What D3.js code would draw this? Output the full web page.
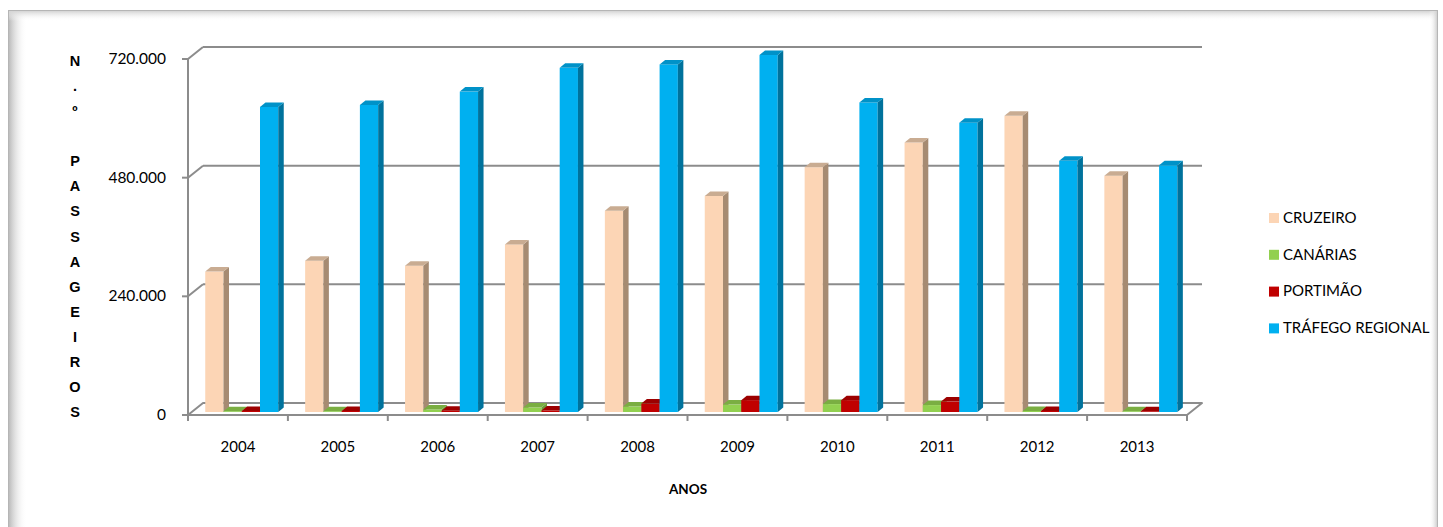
<!DOCTYPE html>
<html>
<head>
<meta charset="utf-8">
<script src="https://cdn.jsdelivr.net/npm/d3@7"></script>
<style>
  body { margin: 0; background: #fff; }
  svg text { font-family: Lato, "Open Sans", sans-serif; fill: #000; }
</style>
</head>
<body>
<div class="chart"></div>
<script>
// dados
const years = ["2004", "2005", "2006", "2007", "2008", "2009", "2010", "2011", "2012", "2013"];
const seriesNames = ["CRUZEIRO", "CANÁRIAS", "PORTIMÃO", "TRÁFEGO REGIONAL"];
const cruzeiro = [284000, 306000, 296000, 339000, 407000, 437000, 495000, 545000, 599000, 478000];
const canarias = [1500, 1500, 5000, 9000, 11000, 15000, 16000, 14000, 2000, 1500];
const portimao = [2000, 2000, 2500, 3000, 17000, 24000, 24000, 21000, 2000, 1500];
const trafegoRegional = [617000, 621000, 648000, 696000, 703000, 722000, 626000, 585000, 508000, 499000];
const yTicks = [0, 240000, 480000, 720000];
const yTitle = "N.º PASSAGEIROS";

const seriesValues = [cruzeiro, canarias, portimao, trafegoRegional];
const colors = [
  { front: "#FCD5B5", side: "#A68B72", top: "#C9AC92" },
  { front: "#92D050", side: "#6B9B38", top: "#7AAE42" },
  { front: "#C00000", side: "#880000", top: "#9C0000" },
  { front: "#00B0F0", side: "#00729C", top: "#0092C8" },
];

const width = 1443, height = 527;
const wallDx = 15, wallDy = -12; // profundidade da parede
const barDx = 3.75, barDy = -3; // plano das barras
const depthDx = 5.5, depthDy = -4.5; // espessura das barras

const pt = d3.formatLocale({ decimal: ",", thousands: ".", grouping: [3], currency: ["", "€"] }).format(",");

const svg = d3
  .select(".chart")
  .append("svg")
  .attr("width", width)
  .attr("height", height);

// moldura com sombra
const defs = svg.append("defs");
const gl = defs.append("linearGradient").attr("id", "shL").attr("x1", 0).attr("x2", 1).attr("y1", 0).attr("y2", 0);
gl.append("stop").attr("offset", 0).attr("stop-color", "#bcbcbc");
gl.append("stop").attr("offset", 1).attr("stop-color", "#ffffff").attr("stop-opacity", 0);
const gt = defs.append("linearGradient").attr("id", "shT").attr("x1", 0).attr("x2", 0).attr("y1", 0).attr("y2", 1);
gt.append("stop").attr("offset", 0).attr("stop-color", "#d4d4d4");
gt.append("stop").attr("offset", 1).attr("stop-color", "#ffffff").attr("stop-opacity", 0);
const gr = defs.append("linearGradient").attr("id", "shR").attr("x1", 1).attr("x2", 0).attr("y1", 0).attr("y2", 0);
gr.append("stop").attr("offset", 0).attr("stop-color", "#d0d0d0");
gr.append("stop").attr("offset", 1).attr("stop-color", "#ffffff").attr("stop-opacity", 0);

svg.append("rect").attr("x", 9).attr("y", 11).attr("width", 18).attr("height", 530).attr("fill", "url(#shL)");
svg.append("rect").attr("x", 9).attr("y", 11).attr("width", 1428).attr("height", 10).attr("fill", "url(#shT)");
svg.append("rect").attr("x", 1429).attr("y", 11).attr("width", 8).attr("height", 530).attr("fill", "url(#shR)");
svg
  .append("rect")
  .attr("x", 8.5)
  .attr("y", 10.5)
  .attr("width", 1429)
  .attr("height", 540)
  .attr("fill", "none")
  .attr("stroke", "#b5b5b5")
  .attr("stroke-width", 1);

// escalas
const x0 = d3.scaleBand().domain(years).range([188, 1187]).padding(0);
const x1 = d3.scaleBand().domain(seriesNames).range([13.5, 86.5]).padding(0);
const y = d3.scaleLinear().domain([0, 720000]).range([415, 59]);

const gridColor = "#8c8c8c";
const [xl, xr] = x0.range();

// parede do fundo + linhas de grelha
const grid = svg.append("g").attr("class", "grid");
grid
  .selectAll("line.back")
  .data(yTicks.filter((d) => d > 0))
  .enter()
  .append("line")
  .attr("x1", xl + wallDx)
  .attr("x2", xr + wallDx)
  .attr("y1", (d) => y(d) + wallDy)
  .attr("y2", (d) => y(d) + wallDy)
  .attr("stroke", gridColor)
  .attr("stroke-width", 2);
grid
  .selectAll("line.diag")
  .data(yTicks.filter((d) => d > 0))
  .enter()
  .append("line")
  .attr("x1", xl)
  .attr("x2", xl + wallDx)
  .attr("y1", (d) => y(d))
  .attr("y2", (d) => y(d) + wallDy)
  .attr("stroke", gridColor)
  .attr("stroke-width", 2);

// chão
const y0 = y(0);
svg
  .append("path")
  .attr(
    "d",
    `M${xl},${y0}L${xr},${y0}L${xr + wallDx},${y0 + wallDy}L${xl + wallDx},${y0 + wallDy}Z`
  )
  .attr("fill", "#fff")
  .attr("stroke", gridColor)
  .attr("stroke-width", 2)
  .attr("stroke-linejoin", "round");

// eixo vertical da frente
svg
  .append("line")
  .attr("x1", xl)
  .attr("x2", xl)
  .attr("y1", y(720000))
  .attr("y2", y0)
  .attr("stroke", gridColor)
  .attr("stroke-width", 2);
svg
  .selectAll("line.ytick")
  .data(yTicks)
  .enter()
  .append("line")
  .attr("x1", xl - 6)
  .attr("x2", xl)
  .attr("y1", (d) => y(d))
  .attr("y2", (d) => y(d))
  .attr("stroke", gridColor)
  .attr("stroke-width", 2);

// marcas das categorias
svg
  .selectAll("line.xtick")
  .data(years.map((d) => x0(d)).concat([xr]))
  .enter()
  .append("line")
  .attr("x1", (d) => d)
  .attr("x2", (d) => d)
  .attr("y1", y0)
  .attr("y2", y0 + 6)
  .attr("stroke", gridColor)
  .attr("stroke-width", 2);

// barras 3D
const bw = x1.bandwidth();
const bars = svg.append("g").attr("class", "bars");
years.forEach((yr, i) => {
  seriesNames.forEach((s, j) => {
    const v = seriesValues[j][i];
    const left = x0(yr) + x1(s) + barDx;
    const topY = y(v) + barDy;
    const botY = y0 + barDy;
    const c = colors[j];
    const g = bars.append("g");
    g.append("rect")
      .attr("x", left)
      .attr("y", topY)
      .attr("width", bw)
      .attr("height", Math.max(0, botY - topY))
      .attr("fill", c.front);
    g.append("path")
      .attr(
        "d",
        `M${left + bw},${topY}L${left + bw + depthDx},${topY + depthDy}L${left + bw + depthDx},${botY + depthDy}L${left + bw},${botY}Z`
      )
      .attr("fill", c.side);
    g.append("path")
      .attr(
        "d",
        `M${left},${topY}L${left + depthDx},${topY + depthDy}L${left + bw + depthDx},${topY + depthDy}L${left + bw},${topY}Z`
      )
      .attr("fill", c.top);
  });
});

// rótulos do eixo Y
svg
  .selectAll("text.ylab")
  .data(yTicks)
  .enter()
  .append("text")
  .attr("x", 166)
  .attr("y", (d) => y(d) + 1)
  .attr("text-anchor", "end")
  .attr("dominant-baseline", "middle")
  .style("font-size", "15.5px")
  .text((d) => pt(d));

// rótulos do eixo X
svg
  .selectAll("text.xlab")
  .data(years)
  .enter()
  .append("text")
  .attr("x", (d) => x0(d) + x0.bandwidth() / 2)
  .attr("y", 448)
  .attr("text-anchor", "middle")
  .attr("dominant-baseline", "middle")
  .style("font-size", "15px")
  .text((d) => d);

svg
  .append("text")
  .attr("x", 688)
  .attr("y", 491)
  .attr("text-anchor", "middle")
  .attr("dominant-baseline", "middle")
  .style("font-size", "13.5px")
  .style("font-weight", "bold")
  .text("ANOS");

// título vertical, uma letra por linha
svg
  .selectAll("text.ytitle")
  .data(yTitle.split(""))
  .enter()
  .append("text")
  .attr("x", 75)
  .attr("y", (d, i) => 62 + i * 25.1)
  .attr("text-anchor", "middle")
  .attr("dominant-baseline", "middle")
  .style("font-family", "'Liberation Sans', Arial, sans-serif")
  .style("font-size", "14.5px")
  .style("font-weight", "bold")
  .text((d) => d);

// legenda
const legend = svg
  .append("g")
  .attr("class", "legend")
  .selectAll("g")
  .data(seriesNames)
  .enter()
  .append("g")
  .attr("transform", (d, i) => "translate(1269," + (218 + i * 36.8) + ")");
legend
  .append("rect")
  .attr("x", 0)
  .attr("y", -5)
  .attr("width", 10)
  .attr("height", 10)
  .attr("fill", (d, i) => colors[i].front);
legend
  .append("text")
  .attr("x", 14)
  .attr("y", 1)
  .attr("dominant-baseline", "middle")
  .style("font-size", "15px")
  .text((d) => d);
</script>
</body>
</html>
